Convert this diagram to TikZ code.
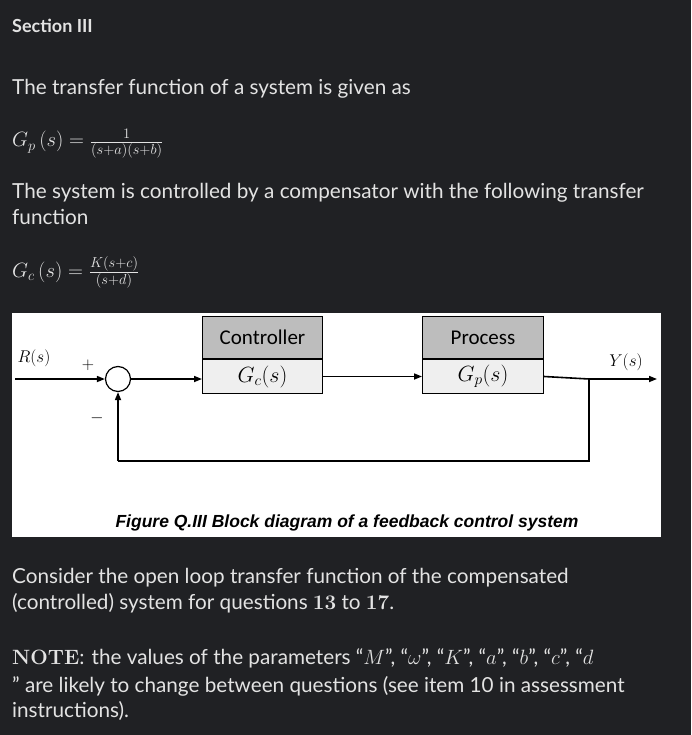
\RequirePackage{fix-cm}
\documentclass[tikz,border=0pt]{standalone}
\usepackage[no-math]{fontspec}
\setmainfont{Lato}
\newfontfamily\capfont{Liberation Sans}
\newfontfamily\blockfont{Carlito}
\usetikzlibrary{arrows.meta}
\definecolor{bg}{HTML}{202124}
\definecolor{fg}{HTML}{E3E3E3}
\definecolor{hdr}{HTML}{BDBDBD}
\definecolor{bodyc}{HTML}{EFEFEF}
\begin{document}
\begin{tikzpicture}[x=1pt,y=-1pt,
  txt/.style={anchor=base west,inner sep=0,text=fg,font=\fontsize{20.7}{24}\selectfont},
  lab/.style={inner sep=0,font=\fontsize{17}{18}\selectfont},
  sig/.style={line width=1.6pt,-{Triangle[length=8pt,width=6pt]}},
  wire/.style={line width=1.6pt}]
\fill[bg] (0,0) rectangle (691,735);
\useasboundingbox (0,0) rectangle (691,735);
\node[txt,font=\bfseries\fontsize{18}{20}\selectfont] (sec) at (12,33) {Section III};
\node[txt] (t1) at (12,95) {The transfer function of a system is given as};
\node[txt] (e1) at (12,147) {$G_p\left(s\right) = \frac{1}{(s+a)(s+b)}$};
\node[txt] (t2) at (12,199) {The system is controlled by a compensator with the following transfer};
\node[txt] (t3) at (12,224) {function};
\node[txt] (e2) at (12,277) {$G_c\left(s\right) = \frac{K(s+c)}{(s+d)}$};
% panel
\fill[white] (12,313) rectangle (661,537);
\node[draw,line width=1pt,fill=hdr,minimum width=120,minimum height=42,anchor=north west,inner sep=0,font=\blockfont\fontsize{21}{22}\selectfont] (ch) at (202,316) {Controller};
\node[draw,line width=1pt,fill=bodyc,minimum width=120,minimum height=34,anchor=north,inner sep=0,font=\fontsize{22}{22}\selectfont] (cb) at (ch.south) {$G_c(s)$};
\node[draw,line width=1pt,fill=hdr,minimum width=121,minimum height=42,anchor=north west,inner sep=0,font=\blockfont\fontsize{21}{22}\selectfont] (ph) at (422,316) {Process};
\node[draw,line width=1pt,fill=bodyc,minimum width=121,minimum height=34,anchor=north,inner sep=0,font=\fontsize{22}{22}\selectfont] (pb) at (ph.south) {$G_p(s)$};
\node[draw,circle,line width=1.2pt,minimum size=25,inner sep=0] (sum) at (118,379) {};
\coordinate (in) at (15,379);
\coordinate (br) at (589,379);
\coordinate (out) at (657,379);
\coordinate (fb) at (589,461);
\coordinate (fbl) at (118,461);
\draw[sig] (in) -- (sum);
\draw[sig] (sum) -- (sum -| cb.west);
\draw[sig] (cb.east) -- (cb.east -| pb.west);
\draw[wire] (pb.east) -- (br);
\draw[sig] (br) -- (out);
\draw[wire] (br) -- (fb) -- (fbl);
\draw[sig] (fbl) -- (sum);
\node[lab] (rs) at (34,358) {$R(s)$};
\node[lab] (plus) at (88,365) {$+$};
\node[lab] (minus) at (97,418) {$-$};
\node[lab] (ys) at (626,362) {$Y(s)$};
\node[inner sep=0,font=\capfont\bfseries\itshape\fontsize{17.5}{18}\selectfont] (cap) at (347,523) {Figure Q.III Block diagram of a feedback control system};
\node[txt] (t4) at (12,583) {Consider the open loop transfer function of the compensated};
\node[txt] (t5) at (12,609) {(controlled) system for questions $\mathbf{13}$ to $\mathbf{17}$.};
\node[txt] (t6) at (12,664) {$\mathbf{NOTE}$: the values of the parameters ``$M$'', ``$\omega$'', ``$K$'', ``$a$'', ``$b$'', ``$c$'', ``$d$};
\node[txt] (t7) at (12,692) {'' are likely to change between questions (see item 10 in assessment};
\node[txt] (t8) at (12,717) {instructions).};
\end{tikzpicture}
\end{document}
